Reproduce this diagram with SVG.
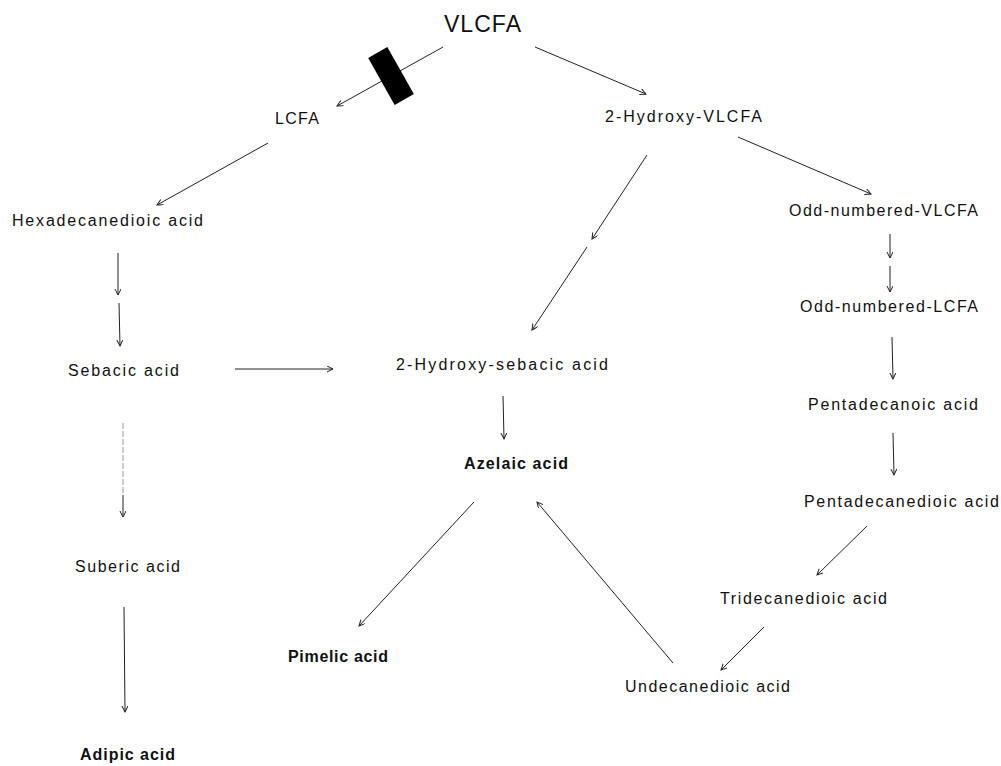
<svg xmlns="http://www.w3.org/2000/svg" width="1001" height="766" viewBox="0 0 1001 766">
<defs>
<marker id="ah" markerUnits="userSpaceOnUse" markerWidth="8" markerHeight="8" refX="6" refY="3" orient="auto">
<path d="M0,0 L6,3 L0,6" fill="none" stroke="#222" stroke-width="1"/>
</marker>
<style>
text{font-family:"Liberation Sans",Arial,sans-serif;font-size:16px;fill:#111}
.b{font-weight:bold}
.big{font-size:23px}
#edges line{stroke:#222;stroke-width:1;fill:none}
.end{marker-end:url(#ah)}
.faint{stroke:#999 !important;stroke-dasharray:6 2}
</style>
</defs>
<rect width="1001" height="766" fill="#fff"/>
<g id="edges">
<line class="end" x1="443" y1="47" x2="337" y2="106"/>
<line class="end" x1="535" y1="47" x2="646" y2="94"/>
<line class="end" x1="268" y1="143" x2="157" y2="205"/>
<line class="end" x1="118" y1="253" x2="118" y2="295"/>
<line class="end" x1="119" y1="303" x2="120" y2="346"/>
<line class="end" x1="235" y1="369" x2="333" y2="369"/>
<line class="faint" x1="123" y1="423" x2="123" y2="495"/>
<line class="end" x1="123" y1="495" x2="123" y2="517"/>
<line class="end" x1="124" y1="607" x2="125" y2="712"/>
<line class="end" x1="647" y1="155" x2="592" y2="239"/>
<line class="end" x1="587" y1="247" x2="532" y2="330"/>
<line class="end" x1="738" y1="137" x2="871" y2="194"/>
<line class="end" x1="890" y1="234" x2="890" y2="258"/>
<line class="end" x1="890" y1="266" x2="890" y2="292"/>
<line class="end" x1="892" y1="337" x2="893" y2="379"/>
<line class="end" x1="893" y1="433" x2="894" y2="475"/>
<line class="end" x1="867" y1="526" x2="817" y2="575"/>
<line class="end" x1="764" y1="627" x2="721" y2="670"/>
<line class="end" x1="673" y1="663" x2="537" y2="502"/>
<line class="end" x1="503" y1="396" x2="504" y2="439"/>
<line class="end" x1="474" y1="502" x2="359" y2="626"/>
</g>
<g id="block"><rect x="-11" y="-27" width="22" height="54" fill="#000" transform="translate(391,76) rotate(-29.4)"/></g>
<g id="n-vlcfa"><text class="big" x="444" y="32" textLength="77" lengthAdjust="spacing">VLCFA</text></g>
<g id="n-lcfa"><text x="275" y="124" textLength="44" lengthAdjust="spacing">LCFA</text></g>
<g id="n-2hvlcfa"><text x="605" y="122" textLength="157" lengthAdjust="spacing">2-Hydroxy-VLCFA</text></g>
<g id="n-hexa"><text x="12" y="226" textLength="191" lengthAdjust="spacing">Hexadecanedioic acid</text></g>
<g id="n-oddv"><text x="789" y="216" textLength="189" lengthAdjust="spacing">Odd-numbered-VLCFA</text></g>
<g id="n-oddl"><text x="800" y="312" textLength="178" lengthAdjust="spacing">Odd-numbered-LCFA</text></g>
<g id="n-seb"><text x="68" y="376" textLength="111" lengthAdjust="spacing">Sebacic acid</text></g>
<g id="n-2hseb"><text x="396" y="370" textLength="212" lengthAdjust="spacing">2-Hydroxy-sebacic acid</text></g>
<g id="n-penta"><text x="808" y="410" textLength="170" lengthAdjust="spacing">Pentadecanoic acid</text></g>
<g id="n-aze"><text class="b" x="464" y="469" textLength="104" lengthAdjust="spacing">Azelaic acid</text></g>
<g id="n-pentadi"><text x="804" y="507" textLength="195" lengthAdjust="spacing">Pentadecanedioic acid</text></g>
<g id="n-sub"><text x="75" y="572" textLength="105" lengthAdjust="spacing">Suberic acid</text></g>
<g id="n-tri"><text x="720" y="604" textLength="167" lengthAdjust="spacing">Tridecanedioic acid</text></g>
<g id="n-pim"><text class="b" x="288" y="662" textLength="100" lengthAdjust="spacing">Pimelic acid</text></g>
<g id="n-und"><text x="625" y="692" textLength="165" lengthAdjust="spacing">Undecanedioic acid</text></g>
<g id="n-adi"><text class="b" x="80" y="760" textLength="95" lengthAdjust="spacing">Adipic acid</text></g>
</svg>
